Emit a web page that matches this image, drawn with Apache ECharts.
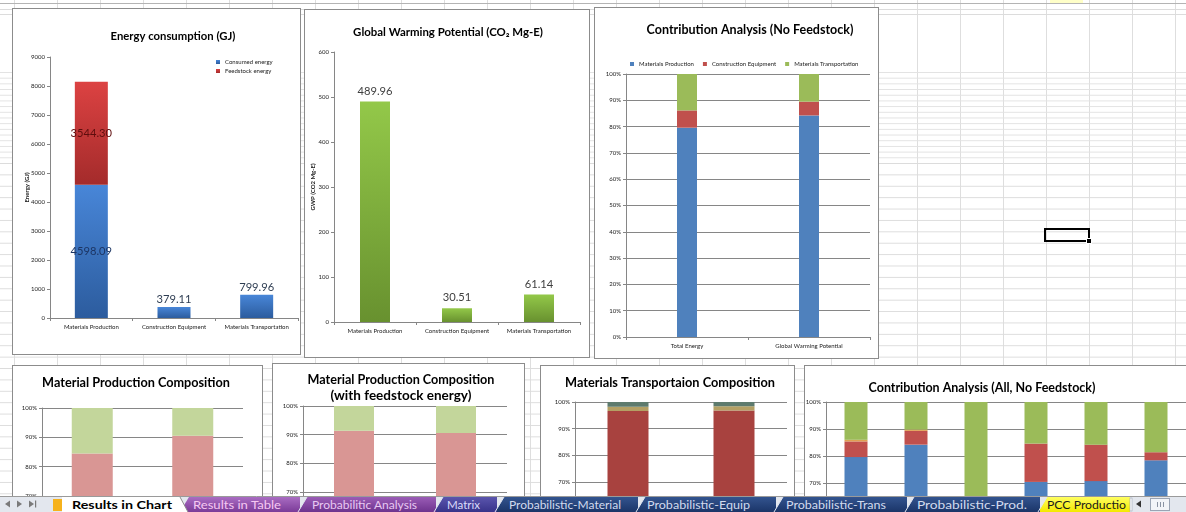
<!DOCTYPE html>
<html>
<head>
<meta charset="utf-8">
<script src="https://cdn.jsdelivr.net/npm/echarts@6/dist/echarts.min.js"></script>
<style>
html,body{margin:0;padding:0;width:1186px;height:512px;overflow:hidden;background:#fff;}
#sheet{position:absolute;left:0;top:0;width:1186px;height:512px;overflow:hidden;background:#fff;}
.vlines{position:absolute;left:0;top:0;width:1186px;height:512px;
  background-image:linear-gradient(to right,#dedede 1px,transparent 1px);background-size:43px 100%;background-position:14px 0;}
.hA{position:absolute;left:0;top:72px;width:1186px;height:92px;
  background-image:linear-gradient(to bottom,#e2e2e2 1px,transparent 1px);background-size:100% 5.7px;}
.hB{position:absolute;left:0;top:163px;width:1186px;height:360px;
  background-image:linear-gradient(to bottom,#dcdcdc 1px,transparent 1px);background-size:100% 11.4px;}
.hline{position:absolute;left:0;width:1186px;height:1px;background:#dcdcdc;}
.box{position:absolute;background:#fff;}
.box .ec{position:absolute;left:0;top:0;width:100%;height:100%;}
.box .frame{position:absolute;left:0;top:0;right:0;bottom:0;border:1px solid #8c8c8c;pointer-events:none;}
#sel{position:absolute;left:1044px;top:228px;width:42px;height:10px;border:2px solid #000;}
#selh{position:absolute;left:1086px;top:238px;width:4px;height:4px;background:#000;border:1px solid #fff;}
#tabs{position:absolute;left:0;top:496px;}
</style>
</head>
<body>
<div id="sheet">
  <div class="vlines"></div>
  <div class="hA"></div>
  <div class="hB"></div>
  <div class="hline" style="top:3px;background:#b4b4b4"></div>
  <div class="hline" style="top:9px"></div>
  <div class="hline" style="top:14px"></div>
  <div style="position:absolute;left:1050px;top:0;width:33px;height:3px;background:#ffffc8"></div>
  <div id="sel"></div><div id="selh"></div>

  <div class="box" style="left:12px;top:8px;width:289px;height:347px"><div class="ec" id="c1"></div><div class="frame"></div></div>
  <div class="box" style="left:304px;top:9px;width:286px;height:349px"><div class="ec" id="c2"></div><div class="frame"></div></div>
  <div class="box" style="left:594px;top:7px;width:285px;height:352px"><div class="ec" id="c3"></div><div class="frame"></div></div>
  <div class="box" style="left:12px;top:365px;width:251px;height:400px"><div class="ec" id="c4"></div><div class="frame"></div></div>
  <div class="box" style="left:272px;top:363px;width:253px;height:400px"><div class="ec" id="c5"></div><div class="frame"></div></div>
  <div class="box" style="left:540px;top:365px;width:255px;height:400px"><div class="ec" id="c6"></div><div class="frame"></div></div>
  <div class="box" style="left:804px;top:365px;width:400px;height:400px"><div class="ec" id="c7"></div><div class="frame"></div></div>

  <svg id="tabs" width="1186" height="16" viewBox="0 0 1186 16">
    <defs>
      <linearGradient id="gPur1" x1="0" y1="0" x2="0" y2="1"><stop offset="0" stop-color="#a96cc2"/><stop offset="1" stop-color="#7b3b98"/></linearGradient>
      <linearGradient id="gPur2" x1="0" y1="0" x2="0" y2="1"><stop offset="0" stop-color="#9a5cb6"/><stop offset="1" stop-color="#6e338e"/></linearGradient>
      <linearGradient id="gInd" x1="0" y1="0" x2="0" y2="1"><stop offset="0" stop-color="#5a55ad"/><stop offset="1" stop-color="#38338a"/></linearGradient>
      <linearGradient id="gNav" x1="0" y1="0" x2="0" y2="1"><stop offset="0" stop-color="#33548f"/><stop offset="1" stop-color="#1b3568"/></linearGradient>
      <linearGradient id="gYel" x1="0" y1="0" x2="0" y2="1"><stop offset="0" stop-color="#ffff60"/><stop offset="1" stop-color="#f4e800"/></linearGradient>
    </defs>
    <rect x="0" y="0" width="1186" height="16" fill="#e3e7ee"/>
    <line x1="0" y1="0.5" x2="1186" y2="0.5" stroke="#9a9a9a"/>
    <polygon points="5,8 10,4.5 10,11.5" fill="#7a7a7a"/>
    <polygon points="22,8 17,4.5 17,11.5" fill="#7a7a7a"/>
    <polygon points="34,8 29,4.5 29,11.5" fill="#7a7a7a"/><rect x="35" y="4.5" width="1.2" height="7" fill="#7a7a7a"/>
    <rect x="53" y="3" width="9" height="12" fill="#f6b21c"/>
    <polygon points="1038,16 1047,1 1130,1 1130,16" fill="url(#gYel)"/>
    <polygon points="905,16 914,1 1040,1 1040,16" fill="url(#gNav)"/>
    <polygon points="774,16 783,1 907,1 907,16" fill="url(#gNav)"/>
    <polygon points="636,16 645,1 776,1 776,16" fill="url(#gNav)"/>
    <polygon points="495,16 504,1 638,1 638,16" fill="url(#gNav)"/>
    <polygon points="434,16 443,1 497,1 497,16" fill="url(#gInd)"/>
    <polygon points="298,16 307,1 436,1 436,16" fill="url(#gPur2)"/>
    <polygon points="180,16 189,1 300,1 300,16" fill="url(#gPur1)"/>
    <g stroke="#dfe4f0" stroke-width="1">
      <line x1="1038" y1="16" x2="1047" y2="1"/>
      <line x1="905" y1="16" x2="914" y2="1"/>
      <line x1="774" y1="16" x2="783" y2="1"/>
      <line x1="636" y1="16" x2="645" y2="1"/>
      <line x1="495" y1="16" x2="504" y2="1"/>
      <line x1="434" y1="16" x2="443" y2="1"/>
      <line x1="298" y1="16" x2="307" y2="1"/>
    </g>
    <polygon points="62,1 180,1 188,16 62,16" fill="#ffffff"/>
    <line x1="180" y1="1" x2="188" y2="16" stroke="#8c8c8c"/>
    <g font-family="Lato, 'Open Sans', sans-serif" font-size="12">
      <text x="72" y="13" textLength="100" lengthAdjust="spacingAndGlyphs" font-weight="bold" fill="#000">Results in Chart</text>
      <text x="193" y="13" textLength="88" lengthAdjust="spacingAndGlyphs" fill="#f6c8f2">Results in Table</text>
      <text x="312" y="13" textLength="105" lengthAdjust="spacingAndGlyphs" fill="#e8c9f2">Probabilitic Analysis</text>
      <text x="447" y="13" textLength="33" lengthAdjust="spacingAndGlyphs" fill="#dcdcfa">Matrix</text>
      <text x="509" y="13" textLength="112" lengthAdjust="spacingAndGlyphs" fill="#d2dbee">Probabilistic-Material</text>
      <text x="647" y="13" textLength="103" lengthAdjust="spacingAndGlyphs" fill="#d2dbee">Probabilistic-Equip</text>
      <text x="786" y="13" textLength="100" lengthAdjust="spacingAndGlyphs" fill="#d2dbee">Probabilistic-Trans</text>
      <text x="917" y="13" textLength="110" lengthAdjust="spacingAndGlyphs" fill="#d2dbee">Probabilistic-Prod.</text>
      <text x="1047" y="13" textLength="79" lengthAdjust="spacingAndGlyphs" fill="#1a1a1a">PCC Productio</text>
    </g>
    <rect x="1130" y="1" width="56" height="15" fill="#e3e7ee"/>
    <rect x="1130" y="2" width="2" height="13" fill="#ffffff" stroke="#9aa4b4" stroke-width="0.6"/>
    <polygon points="1136,8 1141,4.5 1141,11.5" fill="#333"/>
    <rect x="1150.5" y="2.5" width="19" height="12" fill="#f2f4f8" stroke="#9aa4b4"/>
    <g stroke="#8a93a3"><line x1="1157.5" y1="6" x2="1157.5" y2="11"/><line x1="1160.5" y1="6" x2="1160.5" y2="11"/><line x1="1163.5" y1="6" x2="1163.5" y2="11"/></g>
  </svg>
</div>

<script>
// ---------------- data ----------------
const energyCategories = ['Materials Production', 'Construction Equipment', 'Materials Transportation'];
const consumedEnergy = [4598.09, 379.11, 799.96];
const feedstockEnergy = [3544.30, 0, 0];
const gwpValues = [489.96, 30.51, 61.14];

const contributionCategories = ['Total Energy', 'Global Warming Potential'];
const contributionSeriesNames = ['Materials Production', 'Construction Equipment', 'Materials Transportation'];

const compositionCategories = ['Total Energy', 'Global Warming Potential'];
const matProdLower = [84.5, 90.5];
const matProdUpper = [15.5, 9.5];
const matProdFeedLower = [91.4, 90.6];
const matProdFeedUpper = [8.6, 9.4];
const transMain = [96.6, 96.8];
const transMid = [1.6, 1.6];
const transTop = [1.8, 1.6];

const allCategories = ['Total Energy', 'Global Warming Potential', 'Impact 3', 'Impact 4', 'Impact 5', 'Impact 6'];
const allMatProd = [79.6, 84.2, 0, 70.4, 70.7, 78.4];
const allEquip = [5.8, 5.1, 0, 14.2, 13.5, 3.0];
const allOther = [0.6, 0.5, 0, 0, 0, 0];
const allTrans = [14.0, 10.2, 100, 15.4, 15.8, 18.6];

const percentTicks = {min: 0, max: 100, interval: 10};
const energyTicks = {min: 0, max: 9000, interval: 1000};
const gwpTicks = {min: 0, max: 600, interval: 100};

// ---------------- helpers ----------------
const FONT = 'Lato, "Open Sans", sans-serif';
const AXIS = '#868686';
const LBL = '#222';
const mctx = document.createElement('canvas').getContext('2d');
function fit(text, weight, target) {
  mctx.font = weight + ' 100px Lato';
  return 100 * target / mctx.measureText(text).width;
}
function grad(a, b) {
  return new echarts.graphic.LinearGradient(0, 0, 0, 1, [{offset: 0, color: a}, {offset: 1, color: b}]);
}
function titleText(text, x, y, width) {
  return {type: 'text', x: x, y: y, silent: true,
    style: {text: text, font: 'bold ' + fit(text, 'bold', width).toFixed(2) + 'px ' + FONT,
      fill: '#000', align: 'center', verticalAlign: 'middle'}};
}
function xAxisCat(data) {
  return {type: 'category', data: data,
    axisLine: {show: true, lineStyle: {color: AXIS}},
    axisTick: {show: true, length: 3, lineStyle: {color: AXIS}},
    axisLabel: {fontSize: 6, color: LBL, margin: 6, interval: 0, fontFamily: FONT}};
}
function yAxisVal(t, extra) {
  return Object.assign({type: 'value', min: t.min, max: t.max, interval: t.interval,
    nameMoveOverlap: false,
    axisLine: {show: true, lineStyle: {color: AXIS}},
    axisTick: {show: true, length: 3, lineStyle: {color: AXIS}},
    splitLine: {show: false},
    axisLabel: {fontSize: 6, color: LBL, margin: 5, fontFamily: FONT, formatter: v => String(v)}}, extra || {});
}
function init(id) { return echarts.init(document.getElementById(id), null, {renderer: 'canvas'}); }
const valueFont = fit('489.96', 'normal', 35);

// ---------------- chart 1: energy ----------------
init('c1').setOption({
  animation: false,
  textStyle: {fontFamily: FONT},
  graphic: [titleText('Energy consumption (GJ)', 161, 28, 125)],
  legend: {orient: 'vertical', left: 199, top: 46, itemWidth: 4, itemHeight: 4, itemGap: 3, icon: 'rect',
    textStyle: {fontSize: 6, color: LBL}, data: ['Consumed energy', 'Feedstock energy']},
  grid: {left: 38, top: 49, width: 248, height: 261, outerBoundsMode: 'none'},
  xAxis: xAxisCat(energyCategories),
  yAxis: yAxisVal(energyTicks, {name: 'Energy (GJ)', nameLocation: 'middle', nameGap: 20,
    nameTextStyle: {fontSize: 6, fontWeight: 'bold', color: LBL}}),
  series: [
    {name: 'Consumed energy', type: 'bar', stack: 'e', barWidth: 33,
      itemStyle: {color: grad('#4886d8', '#2c5c9e')},
      label: {show: true, fontSize: valueFont, distance: 2, formatter: p => p.value.toFixed(2)},
      data: consumedEnergy.map((v, i) => ({value: v,
        label: {position: i === 0 ? 'inside' : 'top', color: i === 0 ? '#1c3563' : '#2e3d52'}}))},
    {name: 'Feedstock energy', type: 'bar', stack: 'e', barWidth: 33,
      itemStyle: {color: grad('#dc4242', '#a42b2b')},
      label: {show: true, position: 'inside', fontSize: valueFont, color: '#5e0d0d',
        formatter: p => p.value > 0 ? p.value.toFixed(2) : ''},
      data: feedstockEnergy}
  ]
});

// ---------------- chart 2: GWP ----------------
init('c2').setOption({
  animation: false,
  textStyle: {fontFamily: FONT},
  graphic: [titleText('Global Warming Potential (CO\u2082 Mg-E)', 144, 23, 190)],
  grid: {left: 30, top: 43, width: 246, height: 270, outerBoundsMode: 'none'},
  xAxis: xAxisCat(energyCategories),
  yAxis: yAxisVal(gwpTicks, {name: 'GWP (CO2 Mg-E)', nameLocation: 'middle', nameGap: 18,
    nameTextStyle: {fontSize: 6, fontWeight: 'bold', color: LBL}}),
  series: [{name: 'GWP', type: 'bar', barWidth: 30, data: gwpValues,
    itemStyle: {color: grad('#93c849', '#68912f')},
    label: {show: true, position: 'top', distance: 5, fontSize: valueFont, color: '#404040',
      formatter: p => p.value.toFixed(2)}}]
});

// ---------------- chart 3: contribution (no feedstock) ----------------
const energyTotal = consumedEnergy.reduce((a, b) => a + b, 0);
const gwpTotal = gwpValues.reduce((a, b) => a + b, 0);
const contribColors = ['#4F81BD', '#C0504D', '#9BBB59'];
init('c3').setOption({
  animation: false,
  textStyle: {fontFamily: FONT},
  graphic: [titleText('Contribution Analysis (No Feedstock)', 156, 23, 207)],
  legend: {left: 31, top: 49, itemWidth: 4, itemHeight: 4, itemGap: 9, icon: 'rect',
    textStyle: {fontSize: 6, color: LBL}, data: contributionSeriesNames},
  grid: {left: 32, top: 67, width: 244, height: 263, outerBoundsMode: 'none'},
  xAxis: xAxisCat(contributionCategories),
  yAxis: yAxisVal(percentTicks, {axisLabel: {fontSize: 6, color: LBL, margin: 5, formatter: '{value}%'},
    splitLine: {show: true, lineStyle: {color: AXIS, width: 1}}}),
  series: contributionSeriesNames.map((n, i) => ({name: n, type: 'bar', stack: 'c', barWidth: 20,
    itemStyle: {color: contribColors[i]},
    data: [consumedEnergy[i] / energyTotal * 100, gwpValues[i] / gwpTotal * 100]}))
});

// ---------------- percent composition charts (bottom row) ----------------
function pctOption(titles, gridCfg, cats, seriesDefs, barWidth) {
  return {
    animation: false,
    textStyle: {fontFamily: FONT},
    graphic: titles.map(t => titleText(t[0], t[1], t[2], t[3])),
    grid: Object.assign({outerBoundsMode: 'none'}, gridCfg),
    xAxis: xAxisCat(cats),
    yAxis: yAxisVal(percentTicks, {axisLabel: {fontSize: 6, color: LBL, margin: 5, formatter: '{value}%'},
      splitLine: {show: true, lineStyle: {color: AXIS, width: 1}}}),
    series: seriesDefs.map(s => ({name: s.name, type: 'bar', stack: 'p', barWidth: barWidth,
      itemStyle: {color: s.color}, data: s.data}))
  };
}

init('c4').setOption(pctOption(
  [['Material Production Composition', 124, 18, 188]],
  {left: 30, top: 43, width: 201, height: 293},
  compositionCategories,
  [{name: 'Component A', data: matProdLower, color: '#D99694'},
   {name: 'Component B', data: matProdUpper, color: '#C3D69B'}], 41));

init('c5').setOption(pctOption(
  [['Material Production Composition', 129, 17, 187], ['(with feedstock energy)', 129, 33, 141]],
  {left: 31, top: 43, width: 204, height: 287},
  compositionCategories,
  [{name: 'Component A', data: matProdFeedLower, color: '#D99694'},
   {name: 'Component B', data: matProdFeedUpper, color: '#C3D69B'}], 40));

init('c6').setOption(pctOption(
  [['Materials Transportaion Composition', 130, 18, 210]],
  {left: 35, top: 37, width: 212, height: 267},
  compositionCategories,
  [{name: 'Mode A', data: transMain, color: '#A8423F'},
   {name: 'Mode B', data: transMid, color: '#B4A064'},
   {name: 'Mode C', data: transTop, color: '#5E7B6E'}], 41));

init('c7').setOption(pctOption(
  [['Contribution Analysis (All, No Feedstock)', 178, 23, 227]],
  {left: 22, top: 37, width: 360, height: 270},
  allCategories,
  [{name: 'Materials Production', data: allMatProd, color: '#4F81BD'},
   {name: 'Construction Equipment', data: allEquip, color: '#C0504D'},
   {name: 'Other', data: allOther, color: '#E0A052'},
   {name: 'Materials Transportation', data: allTrans, color: '#9BBB59'}], 23));
</script>
</body>
</html>
